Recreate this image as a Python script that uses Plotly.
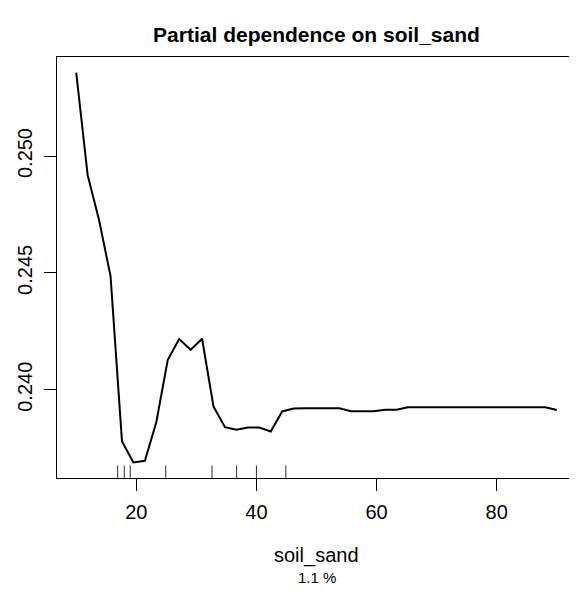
import numpy as np
import plotly.graph_objects as go

# 43 evenly spaced grid points of soil_sand (partial dependence grid)
x_min, x_max, n_pt = 10.0, 90.0, 43
soil_sand = [x_min + i * (x_max - x_min) / (n_pt - 1) for i in range(n_pt)]

partial_dep = [
    0.25357, 0.24918, 0.24725, 0.24486, 0.23779, 0.23689, 0.23696, 0.23861,
    0.24128, 0.24217, 0.24171, 0.24218, 0.23928, 0.23840, 0.23829, 0.23838,
    0.23838, 0.23821, 0.23907, 0.23920, 0.23921, 0.23922, 0.23922, 0.23921,
    0.23908, 0.23908, 0.23908, 0.23914, 0.23914, 0.23925, 0.23925, 0.23925,
    0.23925, 0.23925, 0.23925, 0.23925, 0.23925, 0.23925, 0.23925, 0.23925,
    0.23925, 0.23925, 0.23913,
]

# deciles of the data (rug)
rug_x = [16.9, 18.0, 19.0, 24.9, 32.6, 36.7, 40.0, 44.9]

x_ticks = [20, 40, 60, 80]
y_ticks = [0.240, 0.245, 0.250]
y_tick_labels = ["0.240", "0.245", "0.250"]

title_text = "Partial dependence on soil_sand"
x_label = "soil_sand"
sub_label = "1.1 %"

FONT = "Liberation Sans, Arial, Helvetica, sans-serif"

# page has an 8px body margin; size the figure so it fits the 577x595 window
W, H = 569, 579
OFF = 8

# R-style 4% axis extension
xr = [x_min - 0.04 * (x_max - x_min), x_max + 0.04 * (x_max - x_min)]
ymin, ymax = min(partial_dep), max(partial_dep)
yr = [ymin - 0.04 * (ymax - ymin), ymax + 0.04 * (ymax - ymin)]

fig = go.Figure()
fig.add_trace(go.Scatter(
    x=soil_sand, y=partial_dep, mode="lines",
    line=dict(color="black", width=2), showlegend=False, hoverinfo="skip",
))

for rx in rug_x:
    fig.add_shape(type="line", xref="x", yref="y domain", x0=rx, x1=rx,
                  y0=0, y1=0.03, line=dict(color="#333333", width=1))

axis_common = dict(
    showgrid=False, zeroline=False, showline=True, mirror=True,
    linecolor="black", linewidth=1, ticks="outside", ticklen=12,
    tickwidth=1, tickcolor="black",
    tickfont=dict(family=FONT, size=20, color="black"),
)

plot_top, plot_bottom = 57 - OFF, 478 - OFF
plot_h = plot_bottom - plot_top

fig.update_layout(
    width=W, height=H,
    margin=dict(l=57 - OFF, r=W - (576 - OFF), t=plot_top, b=H - plot_bottom),
    paper_bgcolor="white", plot_bgcolor="white",
    title=dict(text="<b>" + title_text + "</b>", x=0.5, xref="paper",
               xanchor="center", y=1 - (35 - OFF) / H, yref="container",
               yanchor="middle", font=dict(family=FONT, size=21, color="black")),
    xaxis=dict(range=xr, tickvals=x_ticks, ticklabelstandoff=4, **axis_common),
    yaxis=dict(range=yr, tickvals=y_ticks, ticktext=y_tick_labels,
               tickangle=-90, ticklabelstandoff=4, **axis_common),
    annotations=[
        dict(text=x_label, x=0.5, xref="paper",
             y=(plot_bottom - (555 - OFF)) / plot_h, yref="paper",
             xanchor="center", yanchor="middle", showarrow=False,
             font=dict(family=FONT, size=20, color="black")),
        dict(text=sub_label, x=0.5, xref="paper",
             y=(plot_bottom - (577 - OFF)) / plot_h, yref="paper",
             xanchor="center", yanchor="middle", showarrow=False,
             font=dict(family=FONT, size=15, color="black")),
    ],
)

fig.write_html("out.html")
